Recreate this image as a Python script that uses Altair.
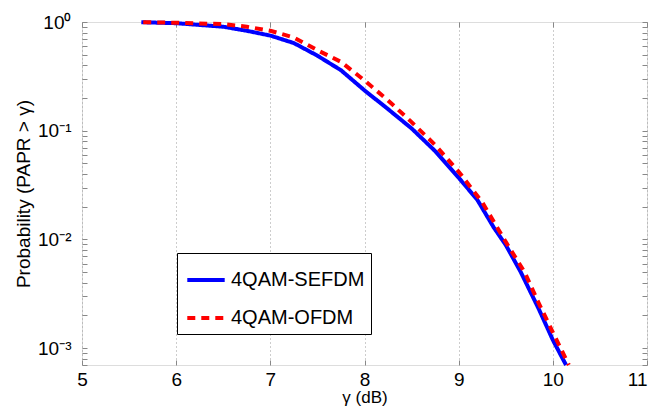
import altair as alt
import pandas as pd

# Values
gamma_sefdm = [5.63, 6.0, 6.5, 6.75, 7.0, 7.25, 7.5, 7.75, 8.0, 8.25, 8.5, 8.75, 9.0, 9.2, 9.37, 9.5, 9.66, 9.85, 10.0, 10.14]
prob_sefdm = [0.995, 0.975, 0.905, 0.83, 0.75, 0.64, 0.49, 0.36, 0.235, 0.158, 0.105, 0.065, 0.037, 0.023, 0.013, 0.0089, 0.005, 0.0023, 0.00119, 0.0007]

gamma_ofdm = [5.65, 6.0, 6.5, 6.75, 7.0, 7.25, 7.5, 7.75, 8.0, 8.25, 8.5, 8.75, 9.0, 9.25, 9.5, 9.7, 9.85, 10.0, 10.17]
prob_ofdm = [0.995, 0.985, 0.955, 0.905, 0.83, 0.72, 0.55, 0.43, 0.29, 0.19, 0.12, 0.074, 0.042, 0.022, 0.0095, 0.005, 0.0026, 0.0014, 0.0007]

series_names = ["4QAM-SEFDM", "4QAM-OFDM"]
x_ticks = [5, 6, 7, 8, 9, 10, 11]
y_decades = [1, 0.1, 0.01, 0.001]
y_minor = [m * d for d in [0.0001, 0.001, 0.01, 0.1] for m in range(1, 10) if 0.0007 <= m * d <= 1] + [1]

df = pd.concat([
    pd.DataFrame({"gamma": gamma_sefdm, "prob": prob_sefdm, "series": series_names[0]}),
    pd.DataFrame({"gamma": gamma_ofdm, "prob": prob_ofdm, "series": series_names[1]}),
])

FONT = "Liberation Sans"
TICK = 5
label_expr = ("datum.value == 1 ? '10⁰' : datum.value == 0.1 ? '10⁻¹' : "
              "datum.value == 0.01 ? '10⁻²' : datum.value == 0.001 ? '10⁻³' : ''")
x_label_align = {"condition": {"test": "datum.value >= 11", "value": "right"}, "value": "center"}

xscale = alt.Scale(domain=[5, 11], nice=False)
yscale = alt.Scale(type="log", domain=[0.0007, 1], nice=False)
color = alt.Color("series:N", scale=alt.Scale(domain=series_names, range=["#0000ff", "#ff0000"]),
                  legend=alt.Legend(title=None, orient="none", legendX=95, legendY=231,
                                    symbolType="stroke", symbolSize=1400, symbolStrokeWidth=4,
                                    strokeColor="black", fillColor="white", padding=6,
                                    labelFont=FONT, labelFontSize=20, labelColor="black",
                                    rowPadding=7, symbolOffset=2, labelOffset=4,
                                    cornerRadius=0))
dash = alt.StrokeDash("series:N", scale=alt.Scale(domain=series_names, range=[[1, 0], [8, 6]]), legend=None)

base = alt.Chart(df)

blue = base.transform_filter(alt.datum.series == series_names[0]).mark_line(strokeWidth=4, strokeCap="butt").encode(
    x=alt.X("gamma:Q", scale=xscale,
            axis=alt.Axis(values=x_ticks, title="γ (dB)", grid=True, gridDash=[1, 3], gridColor="#9a9a9a",
                          domain=False, offset=-TICK, tickSize=TICK, labelFontSize=19, titleFontSize=17,
                          labelPadding=5, titlePadding=0, labelAlign=x_label_align,
                          labelFlush=False, titleFontWeight="normal", format="d")),
    y=alt.Y("prob:Q", scale=yscale,
            axis=alt.Axis(values=y_minor, labelExpr=label_expr, title="Probability (PAPR > γ)",
                          grid=False, domain=False, offset=-TICK, tickSize=TICK,
                          labelFontSize=19, titleFontSize=19,
                          titleFontWeight="normal", labelFlush=False,
                          labelOverlap=False, labelPadding=11, titlePadding=4)),
    color=color,
    strokeDash=dash,
    order="gamma:Q",
)

red = base.transform_filter(alt.datum.series == series_names[1]).mark_line(strokeWidth=4, strokeCap="butt").encode(
    x=alt.X("gamma:Q", scale=xscale,
            axis=alt.Axis(values=x_ticks, orient="top", labels=False, title=None, grid=False,
                          domain=False, offset=-TICK, tickSize=TICK)),
    y=alt.Y("prob:Q", scale=yscale,
            axis=alt.Axis(values=y_minor, orient="right", labels=False, title=None, grid=False,
                          domain=False, offset=-TICK, tickSize=TICK)),
    color=color,
    strokeDash=dash,
    order="gamma:Q",
)

chart = alt.layer(blue, red).resolve_axis(x="independent", y="independent").properties(
    width=565, height=343,
    autosize=alt.AutoSizeParams(type="none"),
    padding={"left": 74, "top": 14, "right": 2, "bottom": 41},
).configure_axis(
    labelFont=FONT, titleFont=FONT, labelColor="black", titleColor="black",
    tickColor="#4d4d4d", titleFontWeight="normal",
).configure_view(stroke="#4d4d4d", strokeWidth=1.5).configure(background="white")

chart.save("out.html", embed_options={"renderer": "svg", "actions": False})
